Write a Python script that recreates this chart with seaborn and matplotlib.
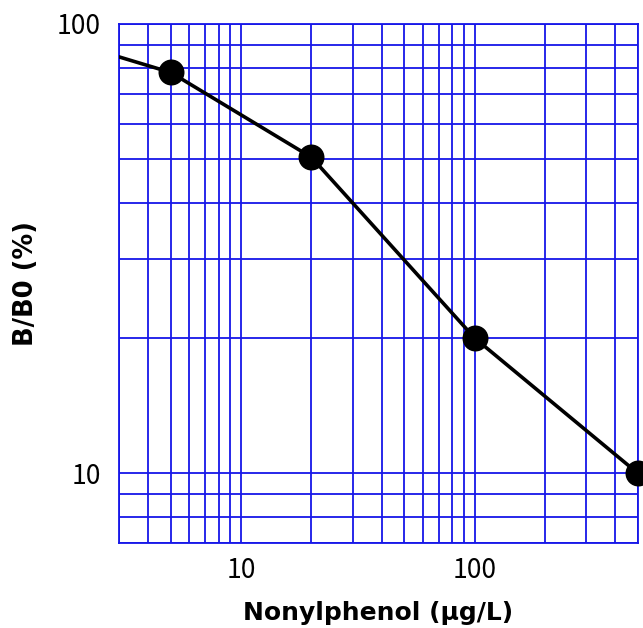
import matplotlib
matplotlib.use("Agg")
import matplotlib.pyplot as plt
import seaborn as sns
import pandas as pd
from matplotlib import font_manager
from matplotlib.ticker import FixedLocator, NullFormatter, FixedFormatter

# Data
line_x = [3, 5, 20, 100, 500]
line_y = [84.5, 78, 50.5, 20, 10]
point_x = [5, 20, 100, 500]
point_y = [78, 50.5, 20, 10]
x_ticks = [10, 100]
x_tick_labels = ["10", "100"]
y_ticks = [10, 100]
y_tick_labels = ["10", "100"]
x_minor = [3, 4, 5, 6, 7, 8, 9, 20, 30, 40, 50, 60, 70, 80, 90, 200, 300, 400, 500]
y_minor = [7, 8, 9, 20, 30, 40, 50, 60, 70, 80, 90]

sns.set_style("white")
plt.rcParams['font.family'] = ['DejaVu Sans']
plt.rcParams['text.color'] = 'black'
plt.rcParams['axes.labelcolor'] = 'black'

names = {f.name for f in font_manager.fontManager.ttflist}
if "Liberation Sans Narrow" in names:
    tick_font = ['Liberation Sans Narrow', 'DejaVu Sans']
    tick_size = 21
else:
    tick_font = ['Noto Sans CJK JP', 'DejaVu Sans']
    tick_size = 19

fig = plt.figure(figsize=(6.43, 6.28), dpi=100)
ax = fig.add_axes([119/643, (628-543)/628, (638-119)/643, (543-24)/628])

df_line = pd.DataFrame({"x": line_x, "y": line_y})
df_pts = pd.DataFrame({"x": point_x, "y": point_y})

ax.set_xscale("log")
ax.set_yscale("log")

grid_color = "#1616e8"
for v in x_minor + x_ticks:
    ax.axvline(v, color=grid_color, lw=1.3, zorder=1)
for v in y_minor + y_ticks:
    ax.axhline(v, color=grid_color, lw=1.3, zorder=1)

sns.lineplot(data=df_line, x="x", y="y", ax=ax, color="black", lw=2.6,
             zorder=3, sort=False, estimator=None)
sns.scatterplot(data=df_pts, x="x", y="y", ax=ax, color="black", s=300,
                edgecolor="black", zorder=4, clip_on=False)

ax.set_xlim(3, 500)
ax.set_ylim(7, 100)

ax.xaxis.set_major_locator(FixedLocator(x_ticks))
ax.xaxis.set_major_formatter(FixedFormatter(x_tick_labels))
ax.yaxis.set_major_locator(FixedLocator(y_ticks))
ax.yaxis.set_major_formatter(FixedFormatter(y_tick_labels))
ax.xaxis.set_minor_locator(FixedLocator(x_minor))
ax.yaxis.set_minor_locator(FixedLocator(y_minor))
ax.xaxis.set_minor_formatter(NullFormatter())
ax.yaxis.set_minor_formatter(NullFormatter())
ax.tick_params(axis="y", which="both", length=0, pad=13, colors="black")
ax.tick_params(axis="x", which="both", length=0, pad=10, colors="black")

for lab in ax.get_xticklabels() + ax.get_yticklabels():
    lab.set_family(tick_font)
    lab.set_fontsize(tick_size)
    lab.set_color("black")

for s in ax.spines.values():
    s.set_color(grid_color)
    s.set_linewidth(1.3)

ax.set_xlabel("Nonylphenol (µg/L)", fontsize=18, fontweight="bold", labelpad=12, color="black")
ax.set_ylabel("B/B0 (%)", fontsize=18.5, fontweight="bold", labelpad=13, color="black")

fig.savefig("out.png", dpi=100)
